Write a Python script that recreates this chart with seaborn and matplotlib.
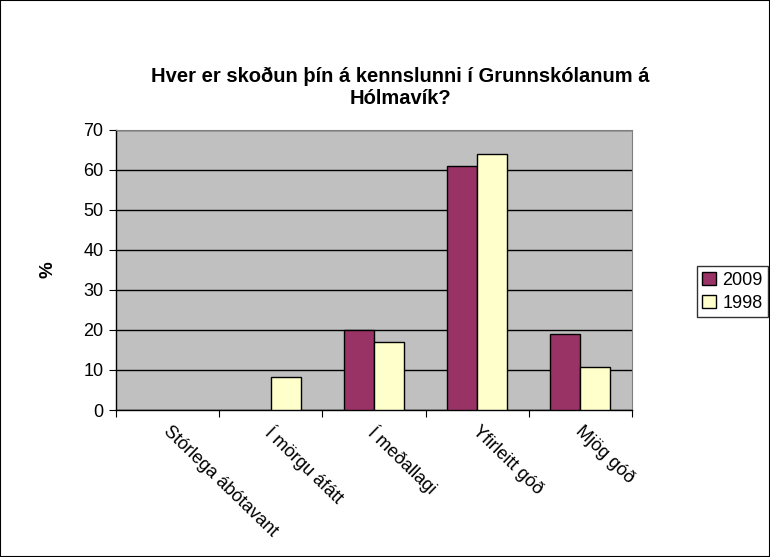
import pandas as pd
import matplotlib.pyplot as plt
import seaborn as sns
from matplotlib.patches import Rectangle, Patch

# values
categories = ['Stórlega ábótavant', 'Í mörgu áfátt', 'Í meðallagi', 'Yfirleitt góð', 'Mjög góð']
years = ['2009', '1998']
vals_2009 = [0, 0, 20, 61, 19]
vals_1998 = [0, 8.3, 17, 64, 10.7]
yticks = [0, 10, 20, 30, 40, 50, 60, 70]
colors = ['#993366', '#FFFFCC']

df = pd.DataFrame({
    'flokkur': categories * 2,
    'ar': [years[0]] * 5 + [years[1]] * 5,
    'pct': vals_2009 + vals_1998,
})

sns.set_style('white')
plt.rcParams['font.family'] = ['Liberation Sans', 'DejaVu Sans']
plt.rcParams.update({'text.color': 'black', 'axes.labelcolor': 'black',
                     'xtick.color': 'black', 'ytick.color': 'black'})

fig = plt.figure(figsize=(7.7, 5.57), dpi=100)
ax = fig.add_axes([0.1506, 0.2639, 0.670, 0.503])
ax.set_facecolor('#C0C0C0')

sns.barplot(data=df, x='flokkur', y='pct', hue='ar', hue_order=years,
            palette=colors, width=0.58, edgecolor='black',
            linewidth=1, saturation=1, ax=ax, zorder=3, legend=False)

# zero values are not drawn in the original
for p in ax.patches:
    if p.get_height() == 0:
        p.set_visible(False)

ax.set_ylim(0, 70)
ax.set_yticks(yticks)
ax.set_xlim(-0.5, 4.5)
ax.yaxis.grid(True, color='black', linewidth=1, zorder=1)
ax.set_axisbelow(True)
for s in ['top', 'right']:
    ax.spines[s].set_color('#808080')
for s in ['left', 'bottom']:
    ax.spines[s].set_color('black')
    ax.spines[s].set_linewidth(1)

ax.tick_params(axis='y', labelsize=13, length=5, direction='out', left=True, pad=4)
ax.set_xticks([i - 0.5 for i in range(6)])
ax.set_xticklabels([])
ax.tick_params(axis='x', length=5, direction='out', bottom=True)
for i, c in enumerate(categories):
    ax.text(i + 0.04, -3.2, c, rotation=-44, rotation_mode='anchor',
            ha='left', va='top', fontsize=13, clip_on=False)

ax.set_xlabel('')
ax.set_ylabel('%', fontsize=13.5, fontweight='bold', labelpad=19)

fig.text(0.52, 0.843, 'Hver er skoðun þín á kennslunni í Grunnskólanum á\nHólmavík?',
         ha='center', va='center', fontsize=14.5, fontweight='bold', linespacing=1.25)

handles = [Patch(facecolor=c, edgecolor='black', linewidth=1) for c in colors]
leg = fig.legend(handles, years, loc='upper left', bbox_to_anchor=(0.905, 0.522),
                 fontsize=13, frameon=True, fancybox=False, edgecolor='black',
                 handlelength=0.75, handleheight=0.75, handletextpad=0.35, borderpad=0.3,
                 labelspacing=0.35, borderaxespad=0)
leg.get_frame().set_linewidth(1)

fig.patches.append(Rectangle((0, 0), 1, 1, transform=fig.transFigure, fill=False,
                             edgecolor='black', linewidth=1.5))

plt.savefig('out.png', dpi=100)
